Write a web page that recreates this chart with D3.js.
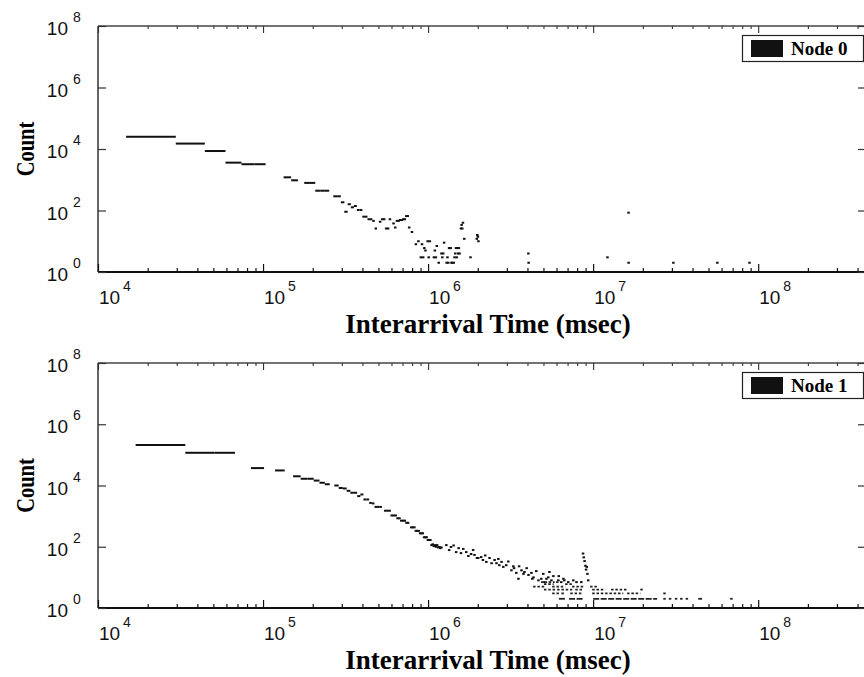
<!DOCTYPE html>
<html><head><meta charset="utf-8">
<script src="https://cdn.jsdelivr.net/npm/d3@7"></script>
<style>body{margin:0;background:#fff} svg{display:block}</style>
</head><body>
<svg id="c" width="864" height="677"></svg>
<script>
// ---------- data ----------
const xDomain = [1e4, 4.5e8];
const yDomain = [1, 1e8];
const xMajor = [1e4, 1e5, 1e6, 1e7, 1e8];
const yMajor = [1, 1e2, 1e4, 1e6, 1e8];
const xLabel = "Interarrival Time (msec)";
const yLabel = "Count";
const legendLabels = ["Node 0", "Node 1"];

// Node 0: histogram, bin k covers [k*w, (k+1)*w] msec
const node0BinWidth = 14800;
const node0Bin = [1,2,3,4,5,6,9,10,12,13,14,15,16,18,19,20,21,22,23,24,25,26,27,28,29,30,31,32,34,35,36,37,38,39,41,42,43,44,45,46,47,48,49,50,51,53,56,58,60,61,62,63,64,66,67,68,72,73,74,75,77,80,81,82,83,86,87,88,89,90,91,92,93,95,96,97,98,99,100,101,102,103,105,106,107,108,110,120,131,132,133,134,269,270,811,1088,1089,2034,3757,5880];
const node0Count = [25000,15000,8600,3600,3200,3200,1200,960,790,790,440,440,440,290,290,185,91,160,127,140,104,104,63,63,52,52,46,26,43,52,52,26,26,52,38,28,46,46,49,49,52,52,66,66,28,20,8,10,3,8,3,6,5,10,3,10,3,5,3,7,2,4,3,4,9,2,3,2,6,6,6,2,2,2,3,4,6,3,6,4,6,4,26,34,26,40,12,3,12,16,14,10,4,2,3,85,2,2,2,2];
const node0RunStart = [];
const node0RunEnd = [];
const node0RunCount = [];

// Node 1
const node1BinWidth = 16900;
const node1Bin = [1,2,3,5,7,9,10,11,12,13,14,16,17,18,19,20,21,22,23,24,25,26,27,28,29,30,32,33,34,35,36,37,38,39,40,41,42,43,44,46,47,48,49,50,51,52,53,54,55,56,57,58,59,60,61,62,63,64,65,66,67,68,69,70,
  75,78,80,83,86,89,92,95,99,102,106,109,111,115,117,122,125,129,131,137,141,147,151,155,157,162,166,173,178,186,191,193,199,205,207,214,220,223,230,236,246,249,253,263,271,282,290,295,303,311,316,325,334,358,360,373,384,389,411,441,461,493,
  505,510,516,522,527,532,537,543];
const node1Count = [210000,117000,117000,37000,31000,20000,16600,16600,14500,12300,11000,10000,8300,8000,6700,5800,5800,4500,5100,3500,3500,2700,2600,2000,2000,2000,1500,1500,1500,1050,1050,1050,850,850,710,710,710,605,605,430,430,430,330,330,330,275,275,275,204,204,204,166,166,166,113,120,105,113,100,113,95,98,90,95,
  113,78,98,110,67,90,62,85,67,50,58,78,54,43,43,46,37,52,32,43,29,37,29,40,25,32,22,25,33,17,23,20,14,9,23,17,13,15,20,12,14,9,10,16,8,9,13,7,9,10,15,8,11,8,11,7,9,8,7,8,7,7,
  60,45,34,24,18,22,13,8];
// runs of consecutive bins sharing one count (first bin, last bin, count)
const node1RunStart = [286,318,352, 256,334,441,567, 298,400, 298,358,461,584,760,1142, 334,380,430,584,950,1574, 367,423,592,1574,1700,1850,1990,2150,2562,4000];
const node1RunEnd   = [310,345,373, 300,400,515,627, 340,440, 353,441,515,700,953,1150, 373,400,510,900,1142,1580, 400,515,1444,1620,1760,1900,2060,2200,2704,4030];
const node1RunCount = [7,7,7, 5,5,5,5, 6,6, 4,4,4,4,4,4, 3,3,3,3,3,3, 2,2,2,2,2,2,2,2,2,2];

// ---------- layout ----------
const L = 98, R = 866;
const panels = [
  {top: 26, bottom: 272, w: node0BinWidth, bins: node0Bin, counts: node0Count,
   rs: node0RunStart, re: node0RunEnd, rc: node0RunCount, legend: legendLabels[0]},
  {top: 363, bottom: 608, w: node1BinWidth, bins: node1Bin, counts: node1Count,
   rs: node1RunStart, re: node1RunEnd, rc: node1RunCount, legend: legendLabels[1]}
];

const svg = d3.select("#c");
const x = d3.scaleLog().domain(xDomain).range([L, R]);

const minor = [];
for (let e = 4; e <= 8; e++) for (let m = 2; m <= 9; m++) {
  const v = m * Math.pow(10, e);
  if (v < xDomain[1]) minor.push(v);
}

const sansF = "'Liberation Sans', Arial, sans-serif";
const serifF = "'Liberation Serif', 'Times New Roman', serif";

panels.forEach(p => {
  const y = d3.scaleLog().domain(yDomain).range([p.bottom, p.top]);
  const g = svg.append("g");

  // frame lines
  g.append("line").attr("x1", L).attr("x2", R).attr("y1", p.top).attr("y2", p.top)
    .attr("stroke", "#444").attr("stroke-width", 1.4);
  g.append("line").attr("x1", L).attr("x2", L).attr("y1", p.top).attr("y2", p.bottom)
    .attr("stroke", "#333").attr("stroke-width", 1.5);
  g.append("line").attr("x1", R).attr("x2", R).attr("y1", p.top).attr("y2", p.bottom)
    .attr("stroke", "#333").attr("stroke-width", 1.5);

  // bottom axis (inward ticks)
  const bx = g.append("g").attr("transform", `translate(0,${p.bottom})`);
  bx.call(d3.axisBottom(x).tickValues(minor).tickSize(-4).tickFormat(""));
  bx.append("g").call(d3.axisBottom(x).tickValues(xMajor).tickSize(-8).tickFormat(""));
  bx.selectAll(".domain").remove();
  bx.selectAll(".tick line").attr("stroke", "#111").attr("stroke-width", 1.2);
  g.append("line").attr("x1", L).attr("x2", R).attr("y1", p.bottom).attr("y2", p.bottom)
    .attr("stroke", "#111").attr("stroke-width", 2);

  // top axis (inward ticks)
  const tx = g.append("g").attr("transform", `translate(0,${p.top})`);
  tx.call(d3.axisTop(x).tickValues(minor).tickSize(-3).tickFormat(""));
  tx.append("g").call(d3.axisTop(x).tickValues(xMajor).tickSize(-7).tickFormat(""));
  tx.selectAll(".domain").remove();
  tx.selectAll(".tick line").attr("stroke", "#333").attr("stroke-width", 1.1);

  // left / right axes
  const ly = g.append("g").attr("transform", `translate(${L},0)`);
  ly.call(d3.axisLeft(y).tickValues(yMajor).tickSize(-8).tickFormat(""));
  ly.selectAll(".domain").remove();
  ly.selectAll(".tick line").attr("stroke", "#333").attr("stroke-width", 1.2);
  const ry = g.append("g").attr("transform", `translate(${R},0)`);
  ry.call(d3.axisRight(y).tickValues(yMajor).tickSize(-8).tickFormat(""));
  ry.selectAll(".domain").remove();
  ry.selectAll(".tick line").attr("stroke", "#333").attr("stroke-width", 1.2);

  // y tick labels 10^n
  yMajor.forEach(v => {
    const yy = y(v);
    const ex = Math.round(Math.log10(v));
    g.append("text").attr("x", 68).attr("y", yy + 9).attr("text-anchor", "end")
      .attr("font-family", sansF).attr("font-size", 19).attr("fill", "#111").text("10");
    g.append("text").attr("x", 73).attr("y", yy - 4)
      .attr("font-family", sansF).attr("font-size", 14).attr("fill", "#111").text(ex);
  });
  // x tick labels
  xMajor.forEach(v => {
    const xx = x(v);
    const ex = Math.round(Math.log10(v));
    g.append("text").attr("x", xx + 1).attr("y", p.bottom + 32)
      .attr("font-family", sansF).attr("font-size", 19).attr("fill", "#111").text("10");
    g.append("text").attr("x", xx + 25).attr("y", p.bottom + 19)
      .attr("font-family", sansF).attr("font-size", 14).attr("fill", "#111").text(ex);
  });

  // axis titles
  g.append("text").attr("x", 488).attr("y", p.bottom + 61).attr("text-anchor", "middle")
    .attr("font-family", serifF).attr("font-weight", "bold").attr("font-size", 27)
    .attr("fill", "#000").text(xLabel);
  const cy = (p.top + p.bottom) / 2;
  g.append("text").attr("transform", `translate(34,${cy}) rotate(-90) scale(0.82,1)`)
    .attr("text-anchor", "middle")
    .attr("font-family", serifF).attr("font-weight", "bold").attr("font-size", 25)
    .attr("fill", "#000").text(yLabel);

  // data
  const clipId = "clip" + p.top;
  svg.append("clipPath").attr("id", clipId).append("rect")
    .attr("x", L).attr("y", p.top).attr("width", R - L).attr("height", p.bottom - p.top);
  const dg = g.append("g").attr("clip-path", `url(#${clipId})`);
  const segs = p.bins.map((k, i) => ({lo: k * p.w, hi: (k + 1) * p.w, c: p.counts[i]}));
  dg.selectAll("rect.d").data(segs).join("rect").attr("class", "d")
    .attr("x", d => x(d.lo))
    .attr("width", d => Math.max(2.5, x(d.hi) - x(d.lo)))
    .attr("y", d => y(d.c) - 1)
    .attr("height", 2)
    .attr("fill", "#111");
  // runs of equal-count bins, drawn as dotted rows
  const runs = p.rs.map((k, i) => ({lo: k * p.w, hi: (p.re[i] + 1) * p.w, c: p.rc[i]}));
  dg.selectAll("line.r").data(runs).join("line").attr("class", "r")
    .attr("x1", d => x(d.lo)).attr("x2", d => Math.max(x(d.hi), x(d.lo) + 2.5))
    .attr("y1", d => y(d.c)).attr("y2", d => y(d.c))
    .attr("stroke", "#222").attr("stroke-width", 1.8)
    .attr("stroke-dasharray", d => d.c === 2 ? "6 1.5" : "2.5 1.8");

  // legend
  const lg = g.append("g").attr("transform", `translate(742,${p.top + 9})`);
  lg.append("rect").attr("x", 0.5).attr("y", 0.5).attr("width", 121).attr("height", 26)
    .attr("fill", "#fff").attr("stroke", "#222").attr("stroke-width", 1.2);
  lg.append("rect").attr("x", 9).attr("y", 5).attr("width", 32).attr("height", 17).attr("fill", "#111");
  lg.append("text").attr("x", 49).attr("y", 20)
    .attr("font-family", serifF).attr("font-weight", "bold").attr("font-size", 19)
    .attr("fill", "#000").text(p.legend);
});
</script>
</body></html>
